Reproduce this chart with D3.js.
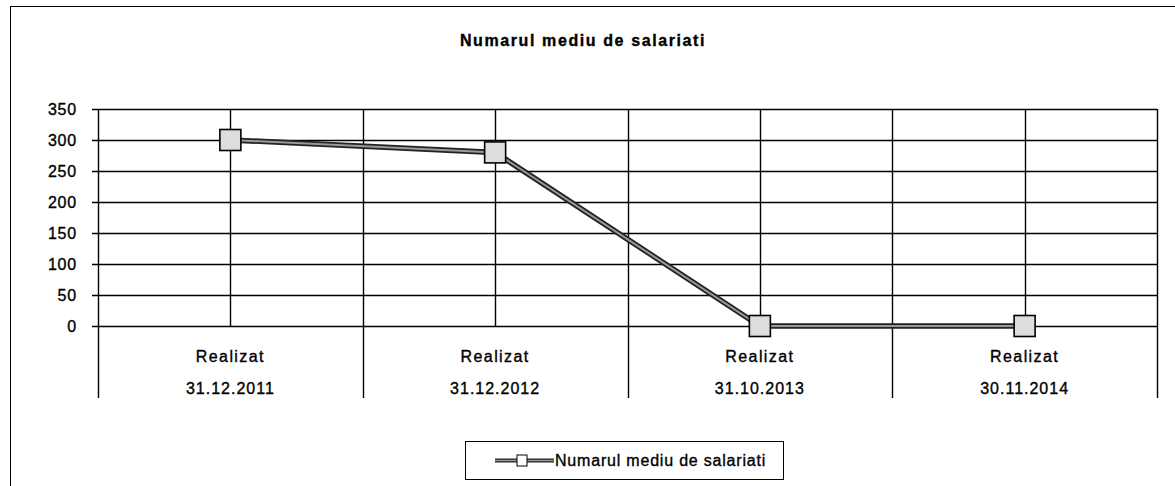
<!DOCTYPE html>
<html>
<head>
<meta charset="utf-8">
<script src="https://cdn.jsdelivr.net/npm/d3@7"></script>
<style>
  body { margin: 0; background: #fff; }
  text { font-family: "Liberation Sans", Arial, sans-serif; fill: #000; stroke: #000; stroke-width: 0.35px; }
</style>
</head>
<body>
<div id="chart"></div>
<script>
// data
var categories = ["31.12.2011", "31.12.2012", "31.10.2013", "30.11.2014"];
var subLabel = ["Realizat", "Realizat", "Realizat", "Realizat"];
var values = [300, 280, 0, 0];
var yTicks = [0, 50, 100, 150, 200, 250, 300, 350];
var seriesName = "Numarul mediu de salariati";

var W = 1175, H = 486;
var plotLeft = 98, plotRight = 1157, plotTop = 109, zeroY = 326, catBottom = 398;

var svg = d3.select("#chart").append("svg")
    .attr("width", W)
    .attr("height", H);

// outer frame (right and bottom edge run off the picture)
svg.append("rect")
    .attr("x", 10.5).attr("y", 6.5)
    .attr("width", 1200).attr("height", 520)
    .attr("fill", "none").attr("stroke", "#000").attr("stroke-width", 1);

// title
svg.append("text")
    .attr("x", 583).attr("y", 46)
    .attr("text-anchor", "middle")
    .style("font-size", "16px").style("font-weight", "bold")
    .style("letter-spacing", "1.6px")
    .text(seriesName);

var xBand = d3.scaleBand()
    .domain(d3.range(categories.length))
    .range([plotLeft, plotRight]);

var yScale = d3.scaleLinear()
    .domain([0, 350])
    .range([zeroY, plotTop]);

function cx(i) { return xBand(i) + xBand.bandwidth() / 2; }

// horizontal gridlines
svg.selectAll(".hgrid")
    .data(yTicks)
    .enter().append("line")
    .attr("x1", plotLeft - 6).attr("x2", plotRight)
    .attr("y1", function(d) { return Math.round(yScale(d)) + 0.5; })
    .attr("y2", function(d) { return Math.round(yScale(d)) + 0.5; })
    .attr("stroke", "#000").attr("stroke-width", 1.4);

// y tick labels
svg.selectAll(".ylab")
    .data(yTicks)
    .enter().append("text")
    .attr("x", 77)
    .attr("y", function(d) { return yScale(d) + 6; })
    .attr("text-anchor", "end")
    .style("font-size", "16px")
    .style("letter-spacing", "0.8px")
    .text(function(d) { return d; });

// category separators (full height down through the labels)
var seps = d3.range(categories.length + 1).map(function(i) {
    return i < categories.length ? xBand(i) : plotRight;
});
svg.selectAll(".sep")
    .data(seps)
    .enter().append("line")
    .attr("x1", function(d) { return Math.round(d) + 0.5; })
    .attr("x2", function(d) { return Math.round(d) + 0.5; })
    .attr("y1", plotTop).attr("y2", catBottom)
    .attr("stroke", "#000").attr("stroke-width", 1.4);

// vertical gridlines at category centres
svg.selectAll(".vgrid")
    .data(categories)
    .enter().append("line")
    .attr("x1", function(d, i) { return Math.round(cx(i)) + 0.5; })
    .attr("x2", function(d, i) { return Math.round(cx(i)) + 0.5; })
    .attr("y1", plotTop).attr("y2", zeroY)
    .attr("stroke", "#000").attr("stroke-width", 1.4);

// category labels, two lines
svg.selectAll(".cat1")
    .data(subLabel)
    .enter().append("text")
    .attr("x", function(d, i) { return cx(i); })
    .attr("y", 362)
    .attr("text-anchor", "middle")
    .style("font-size", "16px")
    .style("letter-spacing", "1.4px")
    .text(function(d) { return d; });

svg.selectAll(".cat2")
    .data(categories)
    .enter().append("text")
    .attr("x", function(d, i) { return cx(i); })
    .attr("y", 394)
    .attr("text-anchor", "middle")
    .style("font-size", "16px")
    .style("letter-spacing", "1px")
    .text(function(d) { return d; });

// the series line: dark edges with a grey core
var line = d3.line()
    .x(function(d, i) { return cx(i); })
    .y(function(d) { return yScale(d); });

svg.append("path")
    .datum(values)
    .attr("d", line)
    .attr("fill", "none").attr("stroke", "#222").attr("stroke-width", 5.5);
svg.append("path")
    .datum(values)
    .attr("d", line)
    .attr("fill", "none").attr("stroke", "#999").attr("stroke-width", 2);

// square markers
var ms = 21;
svg.selectAll(".marker")
    .data(values)
    .enter().append("rect")
    .attr("x", function(d, i) { return cx(i) - ms / 2; })
    .attr("y", function(d) { return yScale(d) - ms / 2; })
    .attr("width", ms).attr("height", ms)
    .attr("fill", "#ddd").attr("stroke", "#000").attr("stroke-width", 1.6);

// legend
var lg = svg.append("g").attr("transform", "translate(465,441)");
lg.append("rect")
    .attr("x", 0.5).attr("y", 0.5)
    .attr("width", 318).attr("height", 38)
    .attr("fill", "#fff").attr("stroke", "#000").attr("stroke-width", 1);
lg.append("line")
    .attr("x1", 30).attr("x2", 89).attr("y1", 19.5).attr("y2", 19.5)
    .attr("stroke", "#222").attr("stroke-width", 4);
lg.append("line")
    .attr("x1", 30).attr("x2", 89).attr("y1", 19.5).attr("y2", 19.5)
    .attr("stroke", "#999").attr("stroke-width", 1.5);
lg.append("rect")
    .attr("x", 52).attr("y", 14).attr("width", 10).attr("height", 11)
    .attr("fill", "#fff").attr("stroke", "#000").attr("stroke-width", 1);
lg.append("text")
    .attr("x", 90).attr("y", 25)
    .style("font-size", "16px")
    .style("letter-spacing", "0.8px")
    .text(seriesName);
</script>
</body>
</html>
